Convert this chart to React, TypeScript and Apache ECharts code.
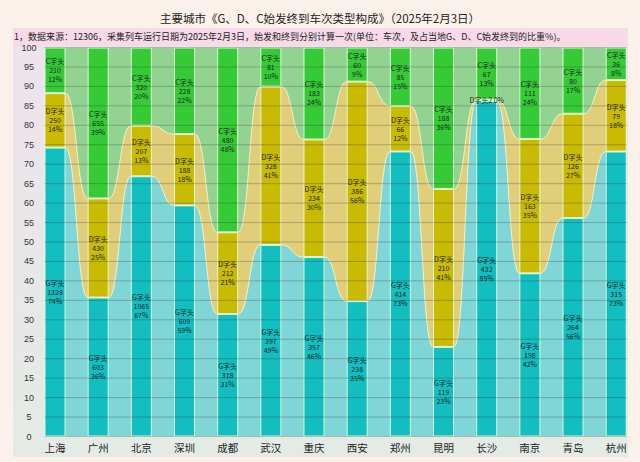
import React, { useEffect, useRef } from "react";
import * as echarts from "echarts";

const titleText = "主要城市《G、D、C始发终到车次类型构成》（2025年2月3日）";
const noteText =
  "1，数据来源：12306，采集列车运行日期为2025年2月3日，始发和终到分别计算一次(单位：车次，及占当地G、D、C始发终到的比重%)。";

const cities = ["上海", "广州", "北京", "深圳", "成都", "武汉", "重庆", "西安", "郑州", "昆明", "长沙", "南京", "青岛", "杭州"];
const gCount = [1328, 603, 1065, 609, 318, 397, 357, 238, 414, 119, 432, 198, 264, 315];
const dCount = [250, 430, 207, 188, 212, 328, 234, 386, 66, 210, 2, 163, 126, 79];
const cCount = [210, 655, 320, 228, 480, 81, 183, 60, 85, 188, 67, 111, 80, 36];
const gPct = [74, 36, 67, 59, 31, 49, 46, 35, 73, 23, 85, 42, 56, 73];
const dPct = [14, 25, 13, 18, 21, 41, 30, 56, 12, 41, 0, 35, 27, 18];
const cPct = [12, 39, 20, 22, 48, 10, 24, 9, 15, 36, 13, 24, 17, 8];
const yTicks = [0, 5, 10, 15, 20, 25, 30, 35, 40, 45, 50, 55, 60, 65, 70, 75, 80, 85, 90, 95, 100];

const FONT = "'Noto Sans CJK SC', 'Noto Sans', sans-serif";
const HW = 10.5;

const colors = {
  gBar: "#12bebf",
  dBar: "#c8bb02",
  cBar: "#36cb36",
  gBand: "#80d6d6",
  dBand: "#e0ce7a",
  cBand: "#93d392",
};

export default function App() {
  const ref = useRef<HTMLDivElement>(null);
  useEffect(() => {
    if (!ref.current) return;
    const chart = echarts.init(ref.current, undefined, { renderer: "svg" });

    const totals = cities.map((_, i) => gCount[i] + dCount[i] + cCount[i]);
    const gShare = gCount.map((v, i) => (v / totals[i]) * 100);
    const dShare = dCount.map((v, i) => (v / totals[i]) * 100);
    const cShare = cCount.map((v, i) => (v / totals[i]) * 100);
    const zeros = cities.map(() => 0);
    const gdTop = cities.map((_, i) => gShare[i] + dShare[i]);
    const allTop = cities.map((_, i) => gShare[i] + dShare[i] + cShare[i]);

    const bez = (p0: number[], p3: number[], n: number) => {
      const mx = (p0[0] + p3[0]) / 2;
      const c1 = [mx, p0[1]];
      const c2 = [mx, p3[1]];
      const pts: number[][] = [];
      for (let k = 0; k <= n; k++) {
        const t = k / n;
        const a = (1 - t) ** 3, b = 3 * (1 - t) ** 2 * t, c = 3 * (1 - t) * t * t, d = t ** 3;
        pts.push([
          a * p0[0] + b * c1[0] + c * c2[0] + d * p3[0],
          a * p0[1] + b * c1[1] + c * c2[1] + d * p3[1],
        ]);
      }
      return pts;
    };

    const band = (name: string, lower: number[], upper: number[], color: string) => ({
      name,
      type: "custom",
      z: 1,
      silent: true,
      data: cities.slice(0, -1).map((_, i) => [i, upper[i]]),
      renderItem: (params: any, api: any) => {
        const i = params.dataIndex;
        const u0 = api.coord([i, upper[i]]);
        const u1 = api.coord([i + 1, upper[i + 1]]);
        const l0 = api.coord([i, lower[i]]);
        const l1 = api.coord([i + 1, lower[i + 1]]);
        const top = [[u0[0], u0[1]], ...bez([u0[0] + HW, u0[1]], [u1[0] - HW, u1[1]], 24), [u1[0], u1[1]]];
        const bot = [[l1[0], l1[1]], ...bez([l1[0] - HW, l1[1]], [l0[0] + HW, l0[1]], 24), [l0[0], l0[1]]];
        return {
          type: "polygon",
          shape: { points: [...top, ...bot] },
          style: { fill: color, stroke: "rgba(255,255,215,0.55)", lineWidth: 1 },
        };
      },
    });

    const bar = (name: string, share: number[], counts: number[], pcts: number[], color: string, prefix: string) => ({
      name,
      type: "bar",
      stack: "all",
      barWidth: HW * 2,
      z: 3,
      data: share,
      itemStyle: { color, borderColor: "rgba(235,255,225,0.85)", borderWidth: 1 },
      label: {
        show: true,
        position: "inside",
        fontSize: 7,
        lineHeight: 9,
        fontFamily: FONT,
        color: "#1a2424",
        formatter: (p: any) => {
          const i = p.dataIndex;
          if (share[i] < 4) return `${prefix}${counts[i]} ${pcts[i]}%`;
          return `${prefix}\n${counts[i]}\n${pcts[i]}%`;
        },
      },
    });

    const gridLines = {
      type: "custom",
      z: 6,
      silent: true,
      data: yTicks.map((v) => [0, v]),
      renderItem: (params: any, api: any) => {
        const v = yTicks[params.dataIndex];
        const p0 = api.coord([0, v]);
        const p1 = api.coord([cities.length - 1, v]);
        return {
          type: "line",
          shape: { x1: p0[0] - HW, y1: p0[1], x2: p1[0] + HW, y2: p1[1] },
          style: { stroke: "rgba(45,45,45,0.28)", lineWidth: 1 },
        };
      },
    };

    chart.setOption({
      animation: false,
      backgroundColor: "#fbf1ea",
      textStyle: { fontFamily: FONT },
      grid: { left: 55, right: 23.8, top: 47.5, bottom: 25.5, containLabel: false },
      xAxis: {
        type: "category",
        data: cities,
        boundaryGap: false,
        axisLine: { show: false },
        axisTick: { show: false },
        axisLabel: { fontSize: 10.5, color: "#222", margin: 6, fontFamily: FONT },
      },
      yAxis: {
        type: "value",
        min: 0,
        max: 100,
        interval: 5,
        axisLine: { show: false },
        axisTick: { show: false },
        splitLine: { show: false },
        axisLabel: { fontSize: 9, color: "#333", align: "center", margin: 26, fontFamily: "'Liberation Sans', Arial, sans-serif" },
      },
      graphic: [
        {
          type: "rect",
          z: -10,
          shape: { x: 13, y: 28, width: 615, height: 429 },
          style: {
            fill: new echarts.graphic.LinearGradient(0, 0, 0, 1, [
              { offset: 0, color: "#ede3ed" },
              { offset: 1, color: "#e4ebe5" },
            ]),
          },
        },
        {
          type: "rect",
          z: -9,
          shape: { x: 13, y: 28, width: 615, height: 18 },
          style: { fill: "#f7d9ea" },
        },
        {
          type: "text",
          x: 320,
          y: 18,
          style: { text: titleText, align: "center", verticalAlign: "middle", fontSize: 11.5, fill: "#222", fontFamily: FONT },
        },
        {
          type: "text",
          x: 14,
          y: 36.5,
          style: { text: noteText, align: "left", verticalAlign: "middle", fontSize: 9, fill: "#222", fontFamily: FONT },
        },
      ],
      series: [
        band("G带", zeros, gShare, colors.gBand),
        band("D带", gShare, gdTop, colors.dBand),
        band("C带", gdTop, allTop, colors.cBand),
        bar("G字头", gShare, gCount, gPct, colors.gBar, "G字头"),
        bar("D字头", dShare, dCount, dPct, colors.dBar, "D字头"),
        bar("C字头", cShare, cCount, cPct, colors.cBar, "C字头"),
        gridLines,
      ],
    });
    return () => chart.dispose();
  }, []);
  return <div ref={ref} style={{ position: "absolute", left: 0, top: 0, width: 640, height: 462 }} />;
}
